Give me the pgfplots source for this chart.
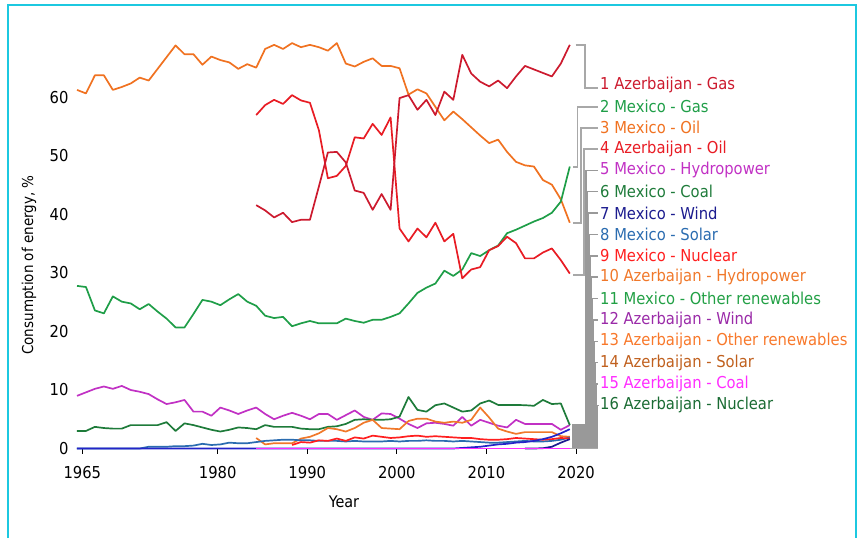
\documentclass[border=0pt]{standalone}
\usepackage{fontspec}
\setmainfont{DejaVu Sans Condensed}
\usepackage{pgfplots}
\pgfplotsset{compat=1.18}
\definecolor{azgas}{HTML}{CC1A2E}
\definecolor{azoil}{HTML}{E81C24}
\definecolor{mxoil}{HTML}{F07221}
\definecolor{mxgas}{HTML}{1F9E48}
\definecolor{mxhydro}{HTML}{C131C4}
\definecolor{mxcoal}{HTML}{1E7B3A}
\definecolor{mxwind}{HTML}{1C1C8F}
\definecolor{mxwindl}{HTML}{2424C8}
\definecolor{mxsolar}{HTML}{2B6CB0}
\definecolor{mxnuc}{HTML}{FF1F1F}
\definecolor{azhydro}{HTML}{F0782A}
\definecolor{mxother}{HTML}{22A045}
\definecolor{azwind}{HTML}{9A2AA8}
\definecolor{azother}{HTML}{F8782A}
\definecolor{azsolar}{HTML}{C0601E}
\definecolor{azcoal}{HTML}{FF2CFF}
\definecolor{aznuc}{HTML}{1A6B33}
\definecolor{frame}{HTML}{1CC8E0}
\definecolor{conn}{HTML}{A8A8A8}
\newcommand{\lab}[3]{\node[anchor=west,inner sep=0pt,text=#2,font=\fontsize{16.4}{18}\selectfont] at (600,{85+21.35*(#1-1)}) {#1 #3};}
\begin{document}
\begin{tikzpicture}
\begin{scope}[shift={(-77pt,448.5pt)},x=1pt,y=-1pt]
\useasboundingbox (0,0) rectangle (865,538);
\end{scope}
\begin{axis}[at={(0pt,0pt)},anchor=south west,scale only axis,
  width=521pt,height=409.5pt,
  xmin=1965,xmax=2023.15,ymin=0,ymax=70,
  axis lines=left,
  x axis line style={-,draw=conn,line width=1.2pt},
  y axis line style={-,draw=none},
  xtick={1965.6,1980.7,1990.7,2000.7,2010.7,2020.7},
  xticklabels={1965,1980,1990,2000,2010,2020},
  ytick={0,10,20,30,40,50,60},
  tick align=outside,
  major tick length=5pt,
  xtick style={black,line width=1pt},
  ytick style={draw=none},
  ticklabel style={font=\fontsize{16.4}{18}\selectfont},
  xticklabel style={yshift=-9pt},
  /pgf/number format/assume math mode=true,
  clip=false,
  every axis plot/.append style={line width=1.7pt,no markers,line join=round},
]
% Mexico oil
\addplot[mxoil] table[x expr=\coordindex+1965,y index=0,header=false] {
61.3
60.7
63.8
63.8
61.3
61.8
62.4
63.4
62.9
64.9
66.9
68.9
67.4
67.4
65.6
67.0
66.4
66.0
64.9
65.7
65.1
68.3
69.0
68.3
69.3
68.6
69.0
68.6
68.0
69.3
65.8
65.3
66.1
66.7
65.4
65.4
65.0
60.5
61.4
60.7
58.4
56.1
57.6
56.3
54.9
53.5
52.2
52.8
50.7
49.0
48.4
48.2
45.9
45.1
42.6
38.6
};
% Mexico gas
\addplot[mxgas] table[x expr=\coordindex+1965,y index=0,header=false] {
27.8
27.6
23.6
23.1
26.0
25.1
24.8
23.8
24.7
23.4
22.2
20.7
20.7
23.0
25.4
25.1
24.5
25.5
26.4
25.1
24.4
22.7
22.3
22.5
20.9
21.4
21.8
21.4
21.4
21.4
22.2
21.8
21.5
22.0
22.0
22.5
23.1
24.8
26.6
27.5
28.2
30.4
29.5
30.6
33.4
32.9
33.9
34.7
36.8
37.4
38.1
38.8
39.4
40.3
42.2
48.2
};
% Azerbaijan oil
\addplot[azoil] table[x expr=\coordindex+1985,y index=0,header=false] {
57.0
58.7
59.6
58.9
60.4
59.5
59.1
54.4
46.2
46.6
48.3
53.2
53.0
55.5
53.6
56.6
37.6
35.4
37.6
36.1
38.6
35.4
36.7
29.1
30.6
31.0
33.9
34.6
36.2
35.1
32.5
32.5
33.5
34.2
32.2
29.9
};
% Azerbaijan gas
\addplot[azgas] table[x expr=\coordindex+1985,y index=0,header=false] {
41.6
40.7
39.5
40.3
38.7
39.1
39.1
44.8
50.6
50.7
48.9
44.1
43.7
40.8
43.5
40.8
59.9
60.4
57.9
59.6
57.0
61.0
59.6
67.3
64.1
62.7
61.9
62.9
61.6
63.6
65.4
64.8
64.2
63.6
65.8
69.0
};
% Mexico hydropower
\addplot[mxhydro] table[x expr=\coordindex+1965,y index=0,header=false] {
9.0
9.6
10.2
10.6
10.2
10.7
10.0
9.7
9.3
8.4
7.6
7.9
8.3
6.3
6.3
5.6
7.0
6.5
5.9
6.5
7.0
5.9
5.0
5.6
6.1
5.6
5.0
5.9
5.9
4.9
5.7
6.5
5.4
4.9
6.0
5.9
5.1
4.2
3.5
4.3
4.4
4.2
3.9
5.4
3.9
4.9
4.4
3.9
3.6
4.9
4.2
4.2
4.2
4.2
3.2
4.0
};
% Mexico coal
\addplot[mxcoal] table[x expr=\coordindex+1965,y index=0,header=false] {
3.0
3.0
3.7
3.5
3.4
3.4
4.0
4.0
4.0
4.0
4.5
3.0
4.3
4.0
3.6
3.2
2.9
3.2
3.6
3.5
3.3
4.0
3.7
3.7
3.7
3.4
3.3
3.3
3.7
3.8
4.2
4.9
5.0
4.9
4.9
5.0
5.45
8.8
6.6
6.3
7.4
7.7
7.0
6.3
6.5
7.7
8.2
7.45
7.45
7.45
7.4
7.3
8.3
7.6
7.7
4.0
};
% Azerbaijan hydropower
\addplot[azhydro] table[x expr=\coordindex+1985,y index=0,header=false] {
1.8
0.7
0.9
0.9
0.9
1.7
2.0
2.6
3.5
3.3
2.9
3.5
4.4
4.9
3.5
3.4
3.3
4.7
5.1
5.1
4.6
4.4
4.6
4.4
4.9
7.0
5.3
3.4
2.9
2.5
2.8
2.8
2.8
2.8
2.1
2.0
};
% Mexico other renewables (steel blue)
\addplot[mxsolar] table[x expr=\coordindex+1965,y index=0,header=false] {
0
0
0
0
0
0
0
0
0.3
0.3
0.3
0.4
0.4
0.5
0.8
0.6
0.7
1.0
0.9
0.9
1.1
1.3
1.4
1.5
1.5
1.4
1.4
1.3
1.3
1.3
1.2
1.3
1.2
1.2
1.2
1.3
1.2
1.3
1.3
1.4
1.3
1.3
1.2
1.3
1.2
1.1
1.0
1.0
1.1
1.2
1.3
1.2
1.2
1.3
1.5
1.9
};
% Mexico nuclear
\addplot[mxnuc] table[x expr=\coordindex+1989,y index=0,header=false] {
0.6
1.1
1.0
1.4
1.3
1.7
1.3
1.9
1.7
2.2
2.0
1.8
1.9
2.1
2.2
2.0
2.1
2.0
1.9
1.8
1.8
1.6
1.5
1.5
1.6
1.8
1.7
1.6
1.5
1.6
1.8
1.7
};
% Mexico wind
\addplot[mxwindl] table[x expr=\coordindex+1965,y index=0,header=false] {
0
0
0
0
0
0
0
0
0
0
0
0
0
0
0
0
0
0
0
0
0
0
0
0
0
0
0
0
0
0
0
0
0
0
0
0
0
0
0
0
0
0
0
0.1
0.2
0.3
0.5
0.7
0.8
1.0
1.1
1.3
1.6
2.0
2.6
3.3
};
% Mexico solar
\addplot[mxwind] coordinates {(2015,0) (2016,0) (2017,0.05) (2018,0.3) (2019,1.0) (2020,1.6)};
% Azerbaijan coal
\addplot[azcoal] coordinates {(1985,0) (1990,0) (2000,0) (2010,0) (2020,0)};
\end{axis}
\begin{scope}[shift={(-77pt,448.5pt)},x=1pt,y=-1pt]
\draw[frame,line width=2.5pt] (8,538) -- (8,5) -- (856,5) -- (856,538);
\node[rotate=90,font=\fontsize{15}{18}\selectfont] at (29,265) {Consumption of energy, \%};
\node[font=\fontsize{16}{18}\selectfont] at (344,502) {Year};
\begin{scope}[conn,line width=1.6pt]
\draw (575.7,45) -- (585,45) -- (585,88) -- (598,88);
\draw (573,167) -- (577.5,167) -- (577.5,107) -- (598,107);
\draw (573,223) -- (581,223) -- (581,128) -- (598,128);
\draw (573,275) -- (584,275) -- (584,149) -- (598,149);
\end{scope}
\begin{scope}[draw=black!40,line width=1.4pt]
\foreach \k/\ye in {5/425,6/427,7/429,8/431,9/433,10/435,11/437,12/439,13/441,14/443,15/445,16/447}{
  \draw (572,\ye) -- ({586+(\k-5)*1.05},\ye) -- ({586+(\k-5)*1.05},{85+21.35*(\k-1)}) -- (598,{85+21.35*(\k-1)});
}
\end{scope}
\lab{1}{azgas}{Azerbaijan - Gas}
\lab{2}{mxgas}{Mexico - Gas}
\lab{3}{mxoil}{Mexico - Oil}
\lab{4}{azoil}{Azerbaijan - Oil}
\lab{5}{mxhydro}{Mexico - Hydropower}
\lab{6}{mxcoal}{Mexico - Coal}
\lab{7}{mxwind}{Mexico - Wind}
\lab{8}{mxsolar}{Mexico - Solar}
\lab{9}{mxnuc}{Mexico - Nuclear}
\lab{10}{azhydro}{Azerbaijan - Hydropower}
\lab{11}{mxother}{Mexico - Other renewables}
\lab{12}{azwind}{Azerbaijan - Wind}
\lab{13}{azother}{Azerbaijan - Other renewables}
\lab{14}{azsolar}{Azerbaijan - Solar}
\lab{15}{azcoal}{Azerbaijan - Coal}
\lab{16}{aznuc}{Azerbaijan - Nuclear}
\end{scope}
\end{tikzpicture}
\end{document}
